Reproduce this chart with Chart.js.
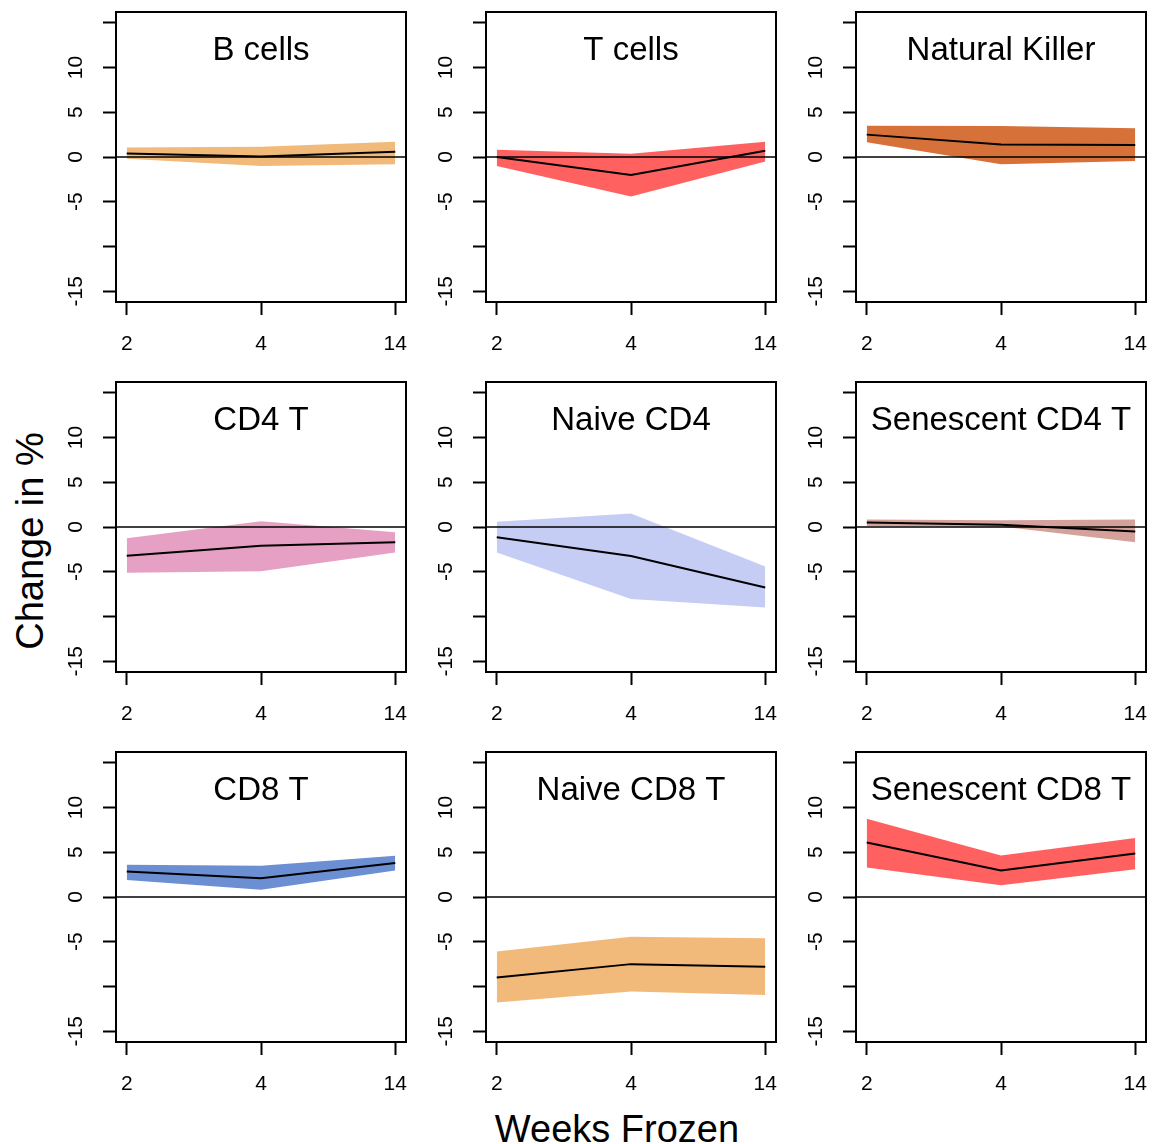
<!DOCTYPE html>
<html>
<head>
<meta charset="utf-8">
<title>Change in % by weeks frozen</title>
<script src="https://cdn.jsdelivr.net/npm/chart.js@4.4.1/dist/chart.umd.min.js"></script>
<style>
  body {
    margin: 0;
    background: #fff;
    width: 1152px;
    height: 1144px;
    position: relative;
    overflow: hidden;
    font-family: "Liberation Sans", Arial, sans-serif;
    color: #000;
  }
  .panel { position: absolute; width: 360px; height: 360px; }
  #ylab {
    position: absolute; left: 30px; top: 541px;
    transform: translate(-50%, -50%) rotate(-90deg);
    font-size: 38px; white-space: nowrap;
  }
  #xlab {
    position: absolute; left: 617px; top: 1129px;
    transform: translate(-50%, -50%);
    font-size: 38px; white-space: nowrap;
  }
</style>
</head>
<body>
<div id="ylab">Change in %</div>
<div id="xlab">Weeks Frozen</div>

<script>
// weeks on the x axis (shown as evenly spaced categories)
const weekLabels = ['2', '4', '14'];

const cellTypes = [
    'B cells', 'T cells', 'Natural Killer',
    'CD4 T', 'Naive CD4', 'Senescent CD4 T',
    'CD8 T', 'Naive CD8 T', 'Senescent CD8 T'
];

const bandColors = [
    '#F2BA7A', '#FF6161', '#D7713A',
    '#E6A0C4', '#C5CDF5', '#D5A29B',
    '#6C8FD4', '#F2BA7A', '#FF6161'
];

// mean change in % at each week
const meanChange = [
    [0.4, 0.05, 0.6],
    [0.0, -2.0, 0.7],
    [2.5, 1.4, 1.35],
    [-3.2, -2.1, -1.7],
    [-1.15, -3.25, -6.75],
    [0.5, 0.25, -0.5],
    [2.85, 2.1, 3.8],
    [-9.0, -7.5, -7.8],
    [6.1, 2.95, 4.85]
];

// lower and upper limits of the shaded interval
const lowerBound = [
    [-0.2, -1.0, -0.8],
    [-1.0, -4.4, -0.5],
    [1.65, -0.8, -0.45],
    [-5.1, -4.95, -2.85],
    [-2.85, -8.05, -9.0],
    [0.1, 0.05, -1.7],
    [1.9, 0.8, 2.95],
    [-11.8, -10.55, -10.95],
    [3.3, 1.3, 3.1]
];

const upperBound = [
    [1.05, 1.15, 1.7],
    [0.8, 0.35, 1.7],
    [3.5, 3.45, 3.2],
    [-1.25, 0.65, -0.6],
    [0.6, 1.5, -4.4],
    [0.85, 0.75, 0.85],
    [3.6, 3.5, 4.6],
    [-6.1, -4.45, -4.6],
    [8.75, 4.65, 6.6]
];

const yTicks = [-15, -10, -5, 0, 5, 10, 15];
const yHiddenLabels = [15, -10];

const fontFamily = '"Liberation Sans", Arial, sans-serif';
Chart.defaults.font.family = fontFamily;
Chart.defaults.color = '#000';

// frame, zero reference line and panel heading
const panelDecor = {
    id: 'panelDecor',
    afterDatasetsDraw(chart, args, opts) {
        const { ctx, chartArea: a, scales: { y } } = chart;
        ctx.save();
        const y0 = y.getPixelForValue(0);
        ctx.strokeStyle = '#000';
        ctx.lineWidth = 1.5;
        ctx.beginPath();
        ctx.moveTo(a.left, y0);
        ctx.lineTo(a.right, y0);
        ctx.stroke();

        ctx.lineWidth = 2;
        ctx.strokeRect(a.left, a.top, a.right - a.left, a.bottom - a.top);

        ctx.fillStyle = '#000';
        ctx.font = '33px ' + fontFamily;
        ctx.textAlign = 'center';
        ctx.textBaseline = 'alphabetic';
        ctx.fillText(opts.text, (a.left + a.right) / 2, a.top + 48);
        ctx.restore();
    }
};

const toPoints = arr => arr.map((v, i) => ({ x: i + 1, y: v }));

// keep the plot box a fixed size regardless of label overhang
const noPadding = s => {
    s.paddingLeft = 0;
    s.paddingRight = 0;
    s.paddingTop = 0;
    s.paddingBottom = 0;
};

const colLeft = [50, 420, 790];
const rowTop = [0, 370, 740];

cellTypes.forEach((name, k) => {
    const canvas = document.createElement('canvas');
    canvas.className = 'panel';
    canvas.width = 360;
    canvas.height = 360;
    canvas.style.left = colLeft[k % 3] + 'px';
    canvas.style.top = rowTop[Math.floor(k / 3)] + 'px';
    document.body.appendChild(canvas);

    const axisGrid = {
        drawOnChartArea: false,
        drawTicks: true,
        tickLength: 13,
        tickWidth: 2,
        tickColor: '#000'
    };

    new Chart(canvas.getContext('2d'), {
        type: 'line',
        data: {
            datasets: [
                {
                    // mean line, first so it is drawn last (on top)
                    data: toPoints(meanChange[k]),
                    fill: false,
                    borderColor: '#000',
                    borderWidth: 2,
                    pointRadius: 0,
                    tension: 0
                },
                {
                    data: toPoints(upperBound[k]),
                    fill: '+1',
                    backgroundColor: bandColors[k],
                    borderWidth: 0,
                    pointRadius: 0,
                    tension: 0
                },
                {
                    data: toPoints(lowerBound[k]),
                    fill: false,
                    borderWidth: 0,
                    pointRadius: 0,
                    tension: 0
                }
            ]
        },
        options: {
            responsive: false,
            animation: false,
            events: [],
            layout: { padding: { top: 12, right: 4, left: 0, bottom: 0 } },
            plugins: {
                legend: { display: false },
                tooltip: { enabled: false },
                panelDecor: { text: name }
            },
            scales: {
                x: {
                    type: 'linear',
                    min: 0.92,
                    max: 3.08,
                    afterBuildTicks: s => { s.ticks = weekLabels.map((_, i) => ({ value: i + 1 })); },
                    afterFit: s => { s.height = 58; noPadding(s); },
                    ticks: {
                        callback: v => weekLabels[v - 1],
                        font: { size: 21 },
                        color: '#000',
                        padding: 17,
                        maxRotation: 0,
                        autoSkip: false
                    },
                    grid: axisGrid,
                    border: { display: false }
                },
                y: {
                    min: -16.2,
                    max: 16.2,
                    afterBuildTicks: s => { s.ticks = yTicks.map(v => ({ value: v })); },
                    afterFit: s => { s.width = 66; noPadding(s); },
                    ticks: {
                        callback: v => yHiddenLabels.includes(v) ? '' : String(v),
                        font: { size: 21 },
                        color: '#000',
                        minRotation: 90,
                        maxRotation: 90,
                        crossAlign: 'center',
                        padding: 12,
                        autoSkip: false
                    },
                    grid: axisGrid,
                    border: { display: false }
                }
            }
        },
        plugins: [panelDecor]
    });
});
</script>
</body>
</html>
